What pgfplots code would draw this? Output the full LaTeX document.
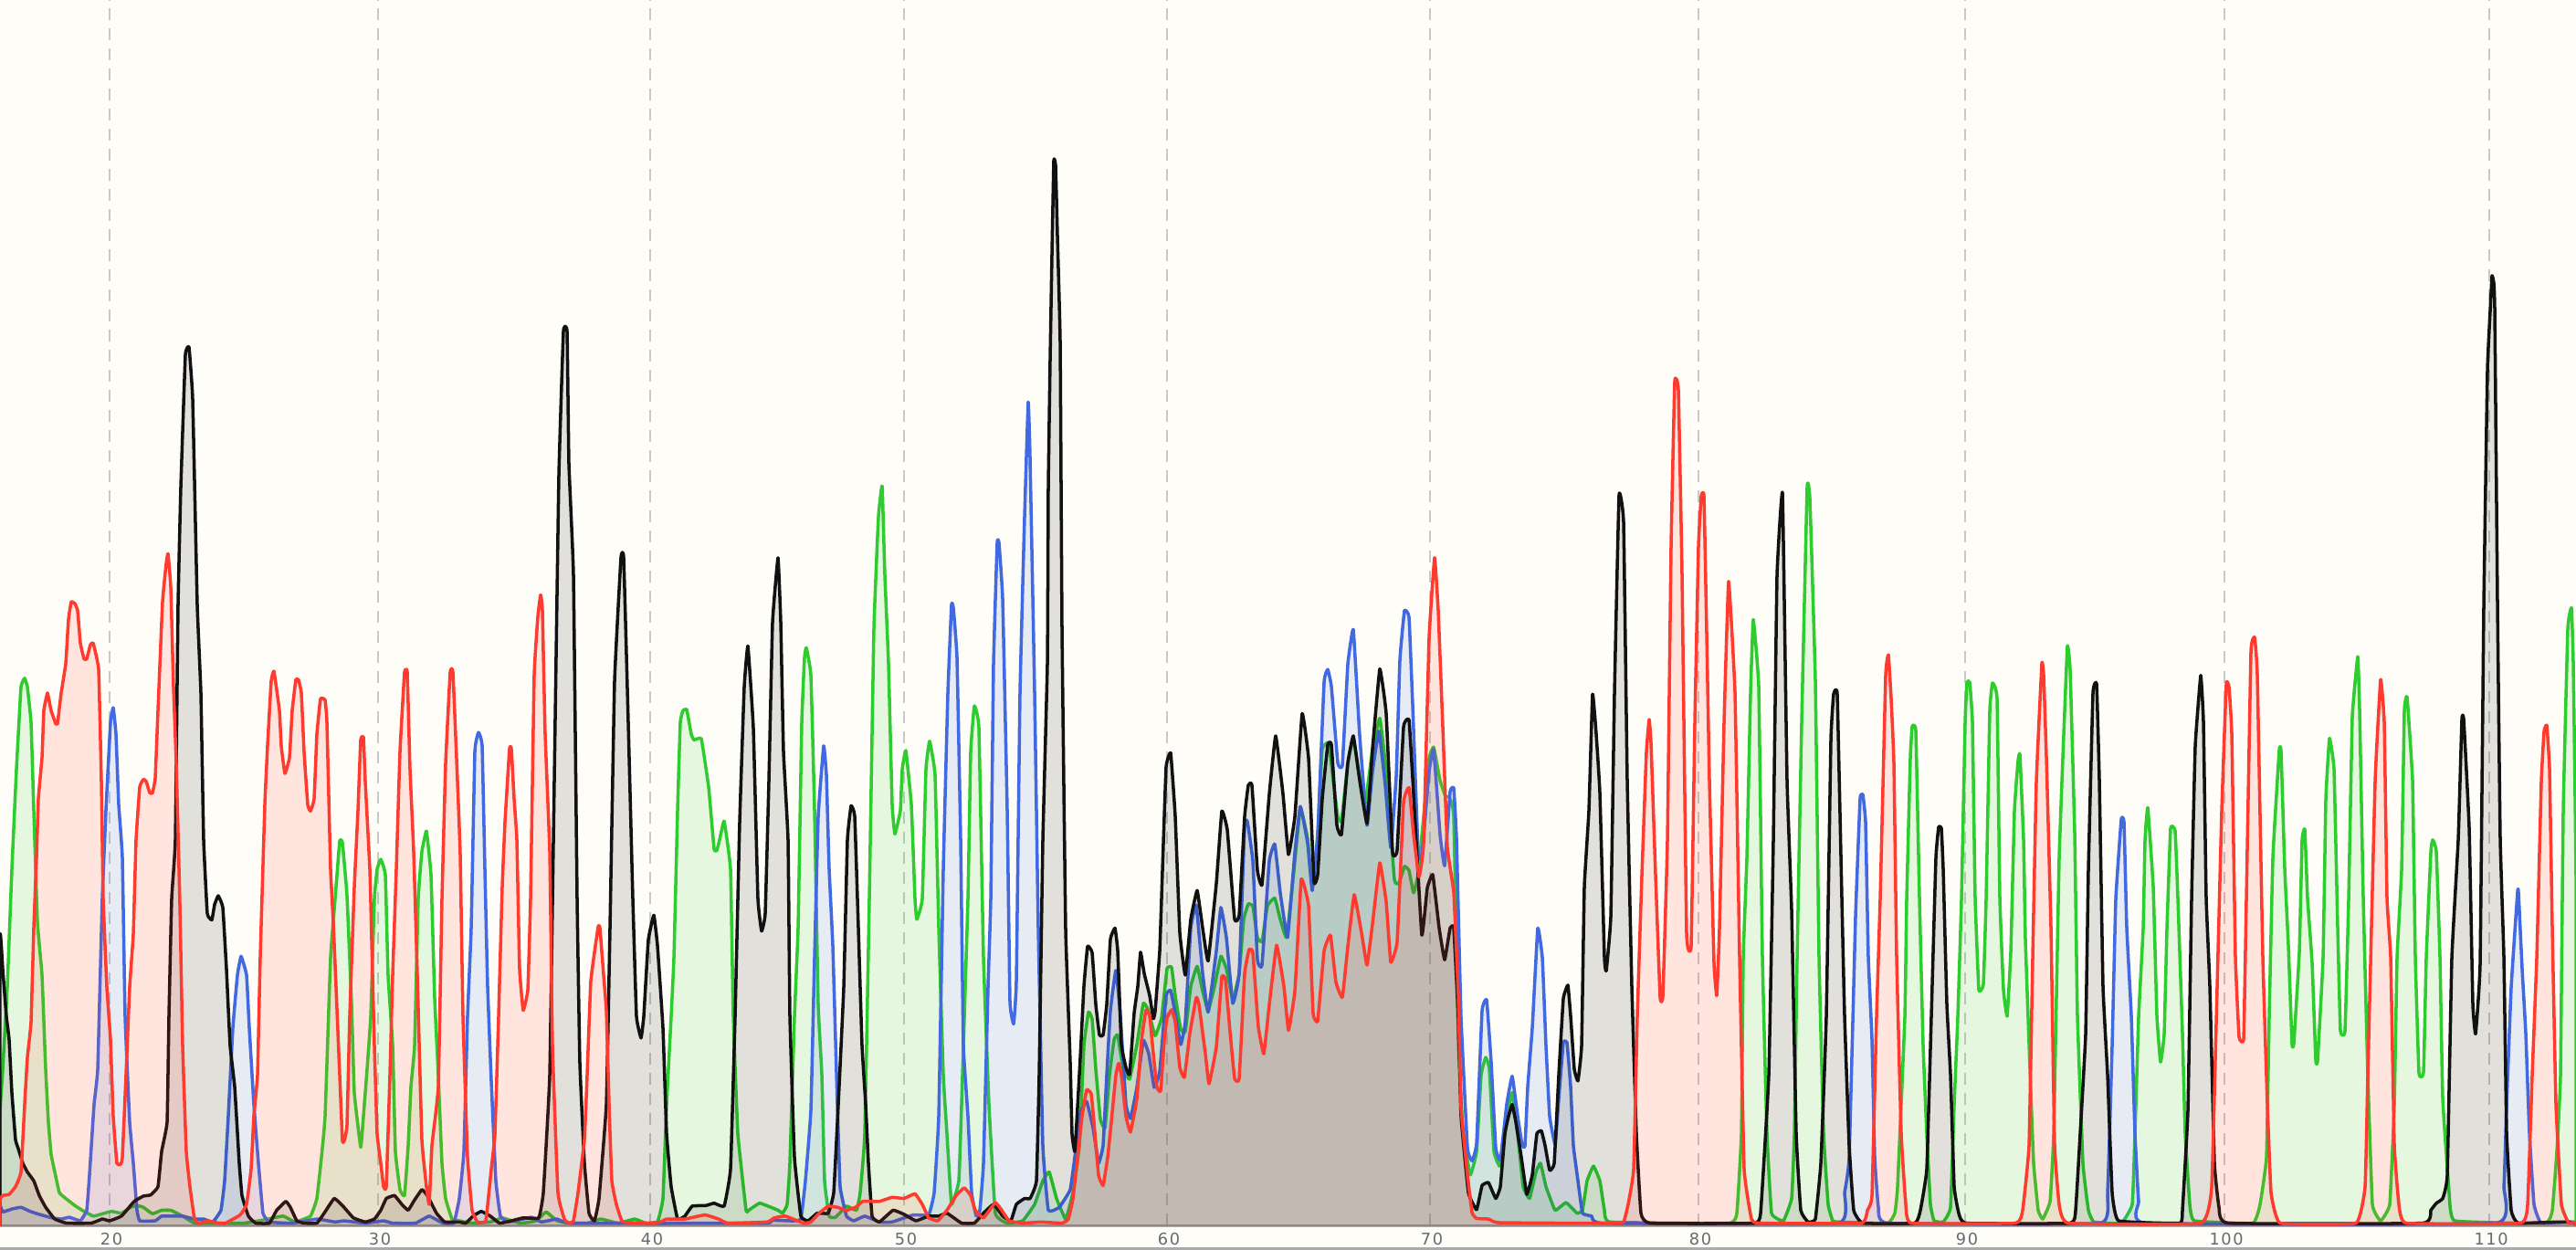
\documentclass[border=0pt]{standalone}
\usepackage{fontspec}
\setmainfont{DejaVu Sans}
\usepackage{pgfplots}
\pgfplotsset{compat=1.18}
\definecolor{bg}{HTML}{FFFDF7}
\definecolor{traceG}{HTML}{2ECC2E}
\definecolor{traceB}{HTML}{4169E1}
\definecolor{traceK}{HTML}{111111}
\definecolor{traceR}{HTML}{FF3B30}
\definecolor{gridc}{HTML}{C8C8C8}
\definecolor{labelc}{HTML}{666A70}
% each trace starts and ends below the clip, so its fill closes without a line on the baseline
\pgfplotsset{trace/.style={color=#1, fill=#1, fill opacity=0.12, draw opacity=1,
  line width=1pt, line join=round, smooth, tension=0.18, no marks}}
\begin{document}
\begin{tikzpicture}
\path[use as bounding box] (0,-0.265) rectangle (28.21,13.425);
\fill[bg] (0,-0.265) rectangle (28.21,13.425);
\draw[black!33, line width=0.6pt] (0,-0.25) -- (28.21,-0.25);
\begin{axis}[
  at={(0,0)}, anchor=south west,
  scale only axis, width=28.21cm, height=13.425cm,
  xmin=0, xmax=2821, ymin=-3.5, ymax=2082,
  axis y line=none, axis x line=bottom,
  axis line style={-, draw=black!33, line width=0.6pt},
  xtick={120,414,712,990,1278,1566,1860,2152,2436,2726},
  xticklabels={20,30,40,50,60,70,80,90,100,110},
  major tick length=0pt,
  xmajorgrids,
  grid style={gridc, dashed, line width=0.45pt, dash pattern=on 1.3mm off 0.9mm},
  xticklabel style={font=\fontsize{5.05}{6}\selectfont\addfontfeature{LetterSpace=9}, text=labelc, xshift=0.02cm, yshift=0.05cm},
  /pgf/number format/assume math mode=true,
]
% green
\addplot[trace=traceG] coordinates {
(0,-100)(0,183)(3,263)(8,403)(13,603)(18,773)(23,913)(27,928)(30,913)(34,853)(37,703)(41,513)(46,423)(50,263)(53,173)(56,118)(60,88)(65,53)(72,43)(82,31)(90,23)(102,13)(110,16)(122,21)(133,18)(143,28)(150,31)(157,28)(167,17)(177,23)(187,23)(200,13)(213,1)(233,1)(267,1)(287,6)(310,13)(323,3)(340,13)(347,43)(352,113)(356,183)(362,453)(367,553)(372,651)(375,648)(380,558)(385,373)(388,223)(395,130)(398,183)(402,263)(406,353)(410,553)(413,603)(417,620)(422,593)(425,423)(430,303)(433,123)(438,58)(443,48)(447,133)(450,233)(454,303)(458,553)(462,633)(467,668)(472,593)(476,383)(480,253)(484,103)(488,43)(495,8)(503,5)(517,1)(537,3)(550,10)(570,1)(587,5)(598,20)(610,5)(623,1)(643,1)(658,8)(677,1)(695,8)(707,1)(720,3)(726,43)(730,203)(735,353)(738,453)(742,703)(745,853)(748,873)(752,875)(757,833)(760,823)(768,825)(776,743)(782,638)(785,635)(788,653)(793,685)(800,603)(803,353)(808,153)(817,23)(820,23)(832,35)(852,23)(857,18)(862,33)(865,103)(870,353)(874,503)(878,853)(881,963)(883,980)(888,933)(892,703)(896,373)(900,253)(903,73)(908,13)(915,11)(927,30)(938,23)(942,53)(947,153)(952,553)(957,1013)(962,1203)(966,1255)(969,1103)(973,953)(977,713)(980,663)(986,703)(988,773)(992,805)(998,713)(1002,553)(1004,518)(1010,553)(1014,773)(1018,821)(1024,763)(1028,503)(1033,253)(1037,153)(1042,33)(1050,73)(1053,203)(1060,553)(1063,803)(1067,881)(1072,843)(1077,453)(1083,203)(1090,18)(1103,1)(1120,5)(1133,33)(1142,73)(1149,88)(1157,43)(1167,8)(1175,53)(1182,133)(1187,303)(1192,360)(1196,348)(1200,263)(1205,178)(1210,163)(1215,253)(1220,313)(1224,321)(1230,263)(1237,246)(1245,305)(1252,375)(1257,365)(1265,320)(1272,350)(1278,434)(1283,436)(1287,388)(1293,331)(1298,327)(1304,404)(1311,438)(1317,396)(1323,362)(1330,404)(1337,455)(1343,434)(1350,381)(1357,426)(1362,518)(1367,544)(1372,540)(1377,487)(1382,480)(1388,541)(1396,554)(1402,518)(1409,487)(1417,601)(1424,708)(1432,655)(1437,575)(1443,662)(1448,807)(1455,818)(1460,754)(1465,693)(1469,685)(1476,784)(1482,826)(1488,769)(1495,716)(1503,807)(1511,860)(1518,769)(1527,586)(1532,579)(1538,608)(1543,601)(1548,563)(1553,594)(1559,693)(1565,792)(1570,811)(1577,754)(1583,727)(1587,726)(1592,693)(1597,312)(1602,160)(1610,83)(1617,123)(1622,253)(1627,283)(1631,263)(1636,123)(1642,98)(1645,113)(1650,183)(1656,223)(1662,153)(1668,63)(1675,43)(1682,88)(1687,103)(1693,63)(1703,23)(1715,36)(1727,18)(1733,23)(1738,73)(1745,98)(1752,73)(1757,23)(1763,3)(1893,1)(1902,18)(1907,153)(1909,453)(1913,623)(1917,903)(1920,1028)(1926,913)(1930,453)(1935,153)(1940,18)(1953,5)(1962,43)(1965,153)(1968,453)(1973,853)(1979,1253)(1982,1233)(1988,923)(1992,453)(1997,153)(2002,33)(2007,5)(2013,3)(2067,1)(2075,18)(2078,63)(2086,353)(2088,553)(2092,793)(2094,846)(2098,838)(2102,553)(2106,303)(2110,153)(2114,33)(2118,5)(2128,3)(2136,28)(2140,203)(2144,353)(2148,553)(2152,853)(2154,921)(2157,921)(2160,853)(2163,553)(2167,398)(2172,408)(2175,553)(2179,873)(2182,920)(2187,893)(2190,553)(2194,398)(2198,353)(2202,463)(2206,703)(2210,788)(2212,798)(2216,653)(2218,483)(2223,263)(2227,103)(2232,23)(2237,8)(2245,38)(2249,153)(2255,623)(2260,833)(2264,983)(2267,943)(2272,663)(2275,353)(2281,103)(2287,23)(2293,3)(2323,1)(2335,33)(2338,153)(2342,353)(2347,503)(2349,653)(2352,708)(2358,573)(2362,353)(2366,275)(2370,323)(2373,503)(2377,673)(2382,668)(2385,553)(2390,323)(2393,153)(2398,33)(2403,5)(2467,1)(2475,33)(2482,113)(2485,353)(2489,623)(2496,806)(2498,803)(2502,603)(2506,473)(2510,305)(2512,308)(2518,463)(2521,653)(2524,671)(2527,553)(2532,443)(2536,278)(2538,278)(2544,453)(2547,723)(2551,826)(2556,773)(2560,503)(2563,328)(2568,328)(2572,553)(2576,863)(2582,965)(2584,873)(2588,553)(2593,253)(2598,33)(2607,5)(2617,33)(2622,203)(2625,453)(2630,603)(2633,873)(2636,896)(2642,753)(2645,453)(2649,256)(2654,258)(2657,453)(2662,633)(2664,653)(2668,633)(2672,453)(2675,213)(2682,53)(2688,5)(2787,1)(2795,23)(2800,123)(2804,253)(2807,703)(2812,1013)(2816,1048)(2818,953)(2821,583)(2821,-100)
};
% blue
\addplot[trace=traceB] coordinates {
(0,-100)(0,28)(3,20)(13,25)(23,28)(33,21)(43,16)(57,10)(67,8)(76,11)(88,5)(95,23)(98,83)(103,203)(107,263)(112,553)(116,703)(121,853)(124,878)(127,833)(130,713)(134,623)(137,353)(142,173)(146,103)(150,23)(153,5)(170,5)(177,13)(188,13)(200,13)(213,8)(223,8)(233,3)(242,23)(246,73)(250,183)(255,333)(260,423)(264,455)(270,423)(273,333)(278,203)(283,103)(288,18)(295,3)(320,1)(347,8)(367,3)(377,5)(400,1)(420,5)(430,1)(455,1)(470,13)(485,1)(497,1)(503,43)(508,123)(512,353)(516,503)(520,803)(524,836)(528,813)(531,603)(534,403)(538,243)(543,73)(548,13)(557,3)(582,11)(593,3)(610,8)(627,1)(837,1)(845,6)(867,5)(877,8)(882,73)(888,193)(892,453)(896,693)(902,813)(905,763)(908,603)(912,473)(917,203)(920,63)(927,13)(935,5)(947,13)(963,3)(977,3)(1000,15)(1017,15)(1023,53)(1028,183)(1033,603)(1038,903)(1042,1053)(1044,1048)(1048,963)(1052,653)(1055,303)(1060,183)(1064,53)(1069,13)(1073,23)(1077,103)(1082,403)(1085,553)(1088,953)(1092,1158)(1094,1158)(1098,1063)(1103,703)(1106,378)(1110,340)(1113,413)(1117,903)(1122,1203)(1126,1398)(1128,1303)(1133,903)(1137,503)(1142,133)(1148,23)(1160,28)(1172,58)(1177,113)(1183,188)(1190,208)(1197,163)(1203,103)(1208,133)(1212,253)(1216,363)(1222,431)(1227,353)(1233,203)(1238,179)(1245,232)(1252,312)(1258,289)(1264,232)(1270,259)(1277,388)(1282,397)(1287,358)(1293,305)(1298,343)(1304,503)(1310,542)(1317,426)(1323,360)(1332,464)(1337,538)(1343,487)(1350,375)(1357,426)(1363,678)(1366,684)(1372,617)(1377,449)(1382,440)(1390,617)(1396,646)(1402,563)(1410,487)(1418,632)(1424,710)(1432,647)(1437,567)(1443,662)(1450,921)(1454,943)(1458,914)(1465,784)(1470,780)(1476,952)(1482,1011)(1489,830)(1497,678)(1503,769)(1510,838)(1517,746)(1523,640)(1529,761)(1533,959)(1538,1043)(1543,1032)(1547,883)(1553,632)(1557,624)(1565,769)(1570,807)(1577,662)(1582,609)(1588,735)(1592,741)(1595,655)(1600,350)(1607,129)(1612,107)(1617,137)(1623,362)(1628,381)(1633,274)(1638,129)(1643,108)(1650,203)(1656,251)(1662,183)(1667,133)(1670,133)(1673,233)(1678,333)(1684,503)(1689,453)(1693,303)(1697,183)(1703,135)(1707,213)(1712,308)(1716,308)(1720,233)(1723,133)(1728,73)(1733,18)(1743,13)(1755,1)(2013,1)(2020,53)(2025,113)(2032,523)(2037,723)(2040,730)(2043,683)(2046,453)(2050,313)(2053,113)(2057,28)(2067,1)(2300,1)(2308,53)(2313,303)(2317,553)(2323,688)(2326,683)(2329,503)(2334,353)(2338,153)(2342,38)(2350,1)(2733,1)(2742,63)(2745,203)(2750,403)(2757,565)(2758,563)(2762,433)(2766,323)(2770,153)(2775,33)(2783,1)(2821,1)(2821,-100)
};
% black
\addplot[trace=traceK] coordinates {
(0,-100)(0,488)(3,433)(7,353)(10,313)(13,223)(17,143)(20,128)(25,103)(30,88)(37,73)(43,48)(50,28)(60,8)(73,1)(100,1)(112,8)(120,5)(133,13)(147,38)(157,47)(165,49)(173,63)(177,123)(183,173)(185,353)(188,553)(192,653)(195,1053)(198,1253)(203,1478)(207,1491)(211,1403)(216,1053)(220,903)(223,653)(227,528)(232,517)(235,543)(239,558)(244,538)(248,433)(252,303)(257,233)(262,103)(265,48)(272,13)(280,1)(295,1)(303,23)(313,38)(318,28)(325,5)(333,1)(347,1)(355,18)(366,43)(375,31)(387,10)(400,3)(410,8)(417,23)(423,43)(432,48)(440,33)(447,23)(453,38)(462,58)(468,48)(478,18)(487,3)(503,3)(510,1)(518,13)(527,21)(537,13)(547,1)(560,5)(573,10)(590,10)(595,53)(602,253)(607,753)(612,1273)(617,1518)(621,1518)(623,1293)(628,1103)(632,553)(635,273)(640,103)(645,18)(651,5)(656,43)(664,203)(668,503)(673,923)(680,1133)(683,1133)(688,853)(693,553)(697,353)(702,316)(705,353)(710,483)(716,525)(720,473)(726,333)(730,153)(735,63)(742,8)(750,13)(758,30)(773,31)(782,35)(793,30)(800,93)(805,353)(810,683)(815,913)(819,983)(825,843)(830,553)(834,498)(838,528)(842,753)(846,1023)(852,1133)(855,1023)(858,803)(863,653)(865,353)(870,113)(877,13)(885,5)(895,18)(907,18)(913,53)(918,203)(924,403)(928,653)(932,711)(936,693)(940,503)(944,303)(948,203)(951,103)(955,13)(963,3)(978,23)(990,16)(1003,5)(1017,13)(1028,13)(1037,18)(1053,1)(1067,1)(1077,18)(1088,33)(1098,13)(1107,5)(1113,33)(1122,43)(1128,43)(1135,73)(1138,253)(1142,653)(1147,953)(1148,1253)(1150,1470)(1152,1650)(1154,1809)(1156,1800)(1158,1680)(1161,1500)(1163,1013)(1167,500)(1172,274)(1174,152)(1177,123)(1180,198)(1183,282)(1187,404)(1191,472)(1196,461)(1200,373)(1204,321)(1208,321)(1212,373)(1216,484)(1221,503)(1224,464)(1228,305)(1233,266)(1237,254)(1242,358)(1246,404)(1249,462)(1253,426)(1259,388)(1263,349)(1265,362)(1270,464)(1273,601)(1277,777)(1282,801)(1287,693)(1292,495)(1298,423)(1304,518)(1311,567)(1317,503)(1323,447)(1332,579)(1338,702)(1344,670)(1352,518)(1357,525)(1363,693)(1367,746)(1371,746)(1377,601)(1382,577)(1390,731)(1397,830)(1405,731)(1411,628)(1418,693)(1426,868)(1433,792)(1439,582)(1443,594)(1448,723)(1454,815)(1458,815)(1464,678)(1469,662)(1476,784)(1482,830)(1489,754)(1497,681)(1503,807)(1511,944)(1518,868)(1525,632)(1530,636)(1537,845)(1543,857)(1548,731)(1557,491)(1563,571)(1569,594)(1576,503)(1582,449)(1588,503)(1592,503)(1597,350)(1600,183)(1608,53)(1617,24)(1623,65)(1630,70)(1638,43)(1643,63)(1648,153)(1652,183)(1656,203)(1660,173)(1666,113)(1672,50)(1678,83)(1683,153)(1688,158)(1692,133)(1697,91)(1702,103)(1707,253)(1712,383)(1717,406)(1720,353)(1724,263)(1728,243)(1732,303)(1735,573)(1740,703)(1744,901)(1748,833)(1752,733)(1757,453)(1759,430)(1764,523)(1768,903)(1773,1240)(1778,1193)(1782,753)(1787,403)(1792,153)(1797,18)(1807,1)(1920,1)(1928,18)(1937,253)(1942,653)(1946,1103)(1952,1243)(1957,753)(1962,533)(1967,153)(1972,23)(1980,3)(1988,8)(1994,103)(2000,353)(2005,823)(2008,901)(2012,900)(2017,553)(2020,353)(2025,133)(2030,23)(2040,1)(2097,1)(2103,23)(2110,93)(2115,353)(2120,623)(2123,675)(2126,673)(2128,603)(2132,373)(2136,253)(2140,63)(2145,18)(2153,1)(2267,1)(2273,23)(2278,153)(2284,323)(2287,603)(2292,903)(2296,918)(2299,753)(2303,403)(2308,253)(2313,53)(2320,5)(2387,1)(2390,23)(2396,193)(2400,553)(2404,813)(2410,933)(2413,853)(2416,553)(2420,403)(2425,103)(2430,28)(2440,1)(2653,1)(2662,23)(2668,35)(2675,43)(2680,83)(2685,453)(2692,653)(2696,858)(2698,858)(2704,673)(2708,373)(2711,323)(2716,443)(2720,1053)(2724,1453)(2727,1553)(2729,1613)(2731,1600)(2732,1553)(2735,1053)(2738,653)(2742,453)(2745,153)(2750,23)(2758,1)(2821,1)(2821,-100)
};
% red
\addplot[trace=traceR] coordinates {
(0,-100)(0,38)(3,48)(10,50)(17,63)(23,88)(27,203)(30,283)(34,343)(37,503)(40,623)(42,723)(46,793)(48,873)(52,903)(56,873)(61,851)(63,851)(67,903)(72,953)(75,1028)(78,1058)(82,1055)(85,1043)(88,988)(92,961)(95,961)(99,985)(102,988)(108,943)(111,753)(113,553)(117,403)(121,313)(124,183)(128,103)(132,101)(134,113)(138,253)(142,403)(146,493)(149,653)(153,743)(157,756)(160,753)(164,733)(167,733)(170,758)(173,873)(178,1058)(182,1123)(184,1140)(187,1083)(190,913)(193,783)(197,543)(200,303)(204,123)(208,63)(213,8)(218,1)(227,5)(240,1)(247,1)(263,15)(270,33)(275,93)(278,183)(282,253)(285,453)(290,713)(293,813)(297,923)(300,940)(306,873)(308,813)(312,766)(317,793)(320,873)(324,926)(327,925)(330,903)(333,803)(337,713)(340,702)(344,723)(347,833)(351,893)(356,891)(358,853)(362,603)(365,513)(368,403)(372,253)(375,141)(377,141)(380,168)(383,353)(388,573)(392,703)(395,823)(398,828)(400,753)(405,603)(407,483)(410,303)(413,153)(417,103)(420,63)(423,63)(427,253)(430,423)(434,603)(438,803)(443,938)(446,938)(449,773)(453,633)(457,423)(462,143)(467,63)(470,33)(473,133)(480,233)(484,553)(488,783)(493,938)(496,938)(501,753)(504,628)(507,353)(512,113)(517,23)(523,3)(532,5)(538,93)(542,153)(546,353)(550,573)(553,683)(558,808)(560,808)(563,723)(566,653)(569,433)(573,363)(578,398)(581,553)(585,933)(589,1033)(592,1070)(594,1043)(597,833)(602,633)(605,303)(611,53)(618,8)(623,1)(628,5)(633,53)(640,143)(643,253)(647,413)(655,505)(657,503)(661,423)(664,363)(667,203)(670,73)(675,33)(682,3)(710,1)(723,3)(730,8)(750,8)(772,15)(787,8)(797,1)(840,3)(848,10)(860,13)(880,1)(888,3)(897,18)(907,30)(917,28)(927,23)(937,28)(945,38)(963,38)(977,45)(990,43)(1002,51)(1010,33)(1017,10)(1027,5)(1037,23)(1047,48)(1056,61)(1063,48)(1068,23)(1077,10)(1090,36)(1097,23)(1105,5)(1120,1)(1140,3)(1163,1)(1170,8)(1175,43)(1180,113)(1185,183)(1190,228)(1195,221)(1198,173)(1203,83)(1208,65)(1213,113)(1217,173)(1222,253)(1225,273)(1228,253)(1233,183)(1238,156)(1245,213)(1250,312)(1255,364)(1259,354)(1263,289)(1267,232)(1271,226)(1275,312)(1278,350)(1283,364)(1287,343)(1292,266)(1297,249)(1303,324)(1310,385)(1313,373)(1320,289)(1324,238)(1332,301)(1338,420)(1342,415)(1347,327)(1352,247)(1357,247)(1363,426)(1368,467)(1372,461)(1378,335)(1384,289)(1390,373)(1398,474)(1406,404)(1411,329)(1418,396)(1425,586)(1433,541)(1438,358)(1443,345)(1450,464)(1457,491)(1463,411)(1470,385)(1476,472)(1483,560)(1491,495)(1497,440)(1503,510)(1511,614)(1518,548)(1523,445)(1530,480)(1537,716)(1543,742)(1548,662)(1554,590)(1559,647)(1565,997)(1571,1133)(1575,1043)(1580,845)(1585,640)(1592,563)(1597,388)(1600,198)(1607,84)(1612,19)(1617,9)(1630,8)(1640,2)(1717,1)(1767,1)(1778,3)(1783,33)(1789,93)(1793,353)(1798,593)(1803,803)(1806,858)(1808,818)(1813,593)(1818,385)(1821,388)(1826,653)(1830,1153)(1834,1433)(1838,1418)(1842,1103)(1847,493)(1852,473)(1856,853)(1860,1153)(1863,1238)(1866,1238)(1869,1003)(1872,753)(1877,443)(1880,388)(1883,503)(1888,853)(1893,1093)(1900,903)(1905,453)(1910,93)(1918,8)(1927,1)(2038,1)(2045,23)(2050,48)(2055,353)(2059,553)(2065,933)(2068,968)(2071,893)(2074,783)(2077,453)(2082,153)(2087,33)(2093,1)(2207,1)(2215,23)(2222,133)(2226,453)(2230,753)(2236,953)(2238,933)(2241,793)(2246,503)(2250,133)(2255,33)(2265,1)(2410,1)(2422,63)(2428,403)(2433,703)(2438,918)(2441,913)(2444,833)(2448,453)(2452,318)(2457,315)(2460,553)(2465,973)(2469,998)(2472,933)(2478,453)(2483,203)(2487,53)(2497,1)(2580,1)(2590,63)(2593,253)(2601,753)(2607,926)(2611,853)(2614,553)(2618,453)(2622,133)(2627,33)(2635,1)(2760,1)(2768,33)(2773,253)(2778,453)(2783,753)(2786,838)(2789,848)(2792,773)(2795,503)(2799,203)(2805,33)(2813,1)(2821,1)(2821,-100)
};
\end{axis}
\end{tikzpicture}
\end{document}
